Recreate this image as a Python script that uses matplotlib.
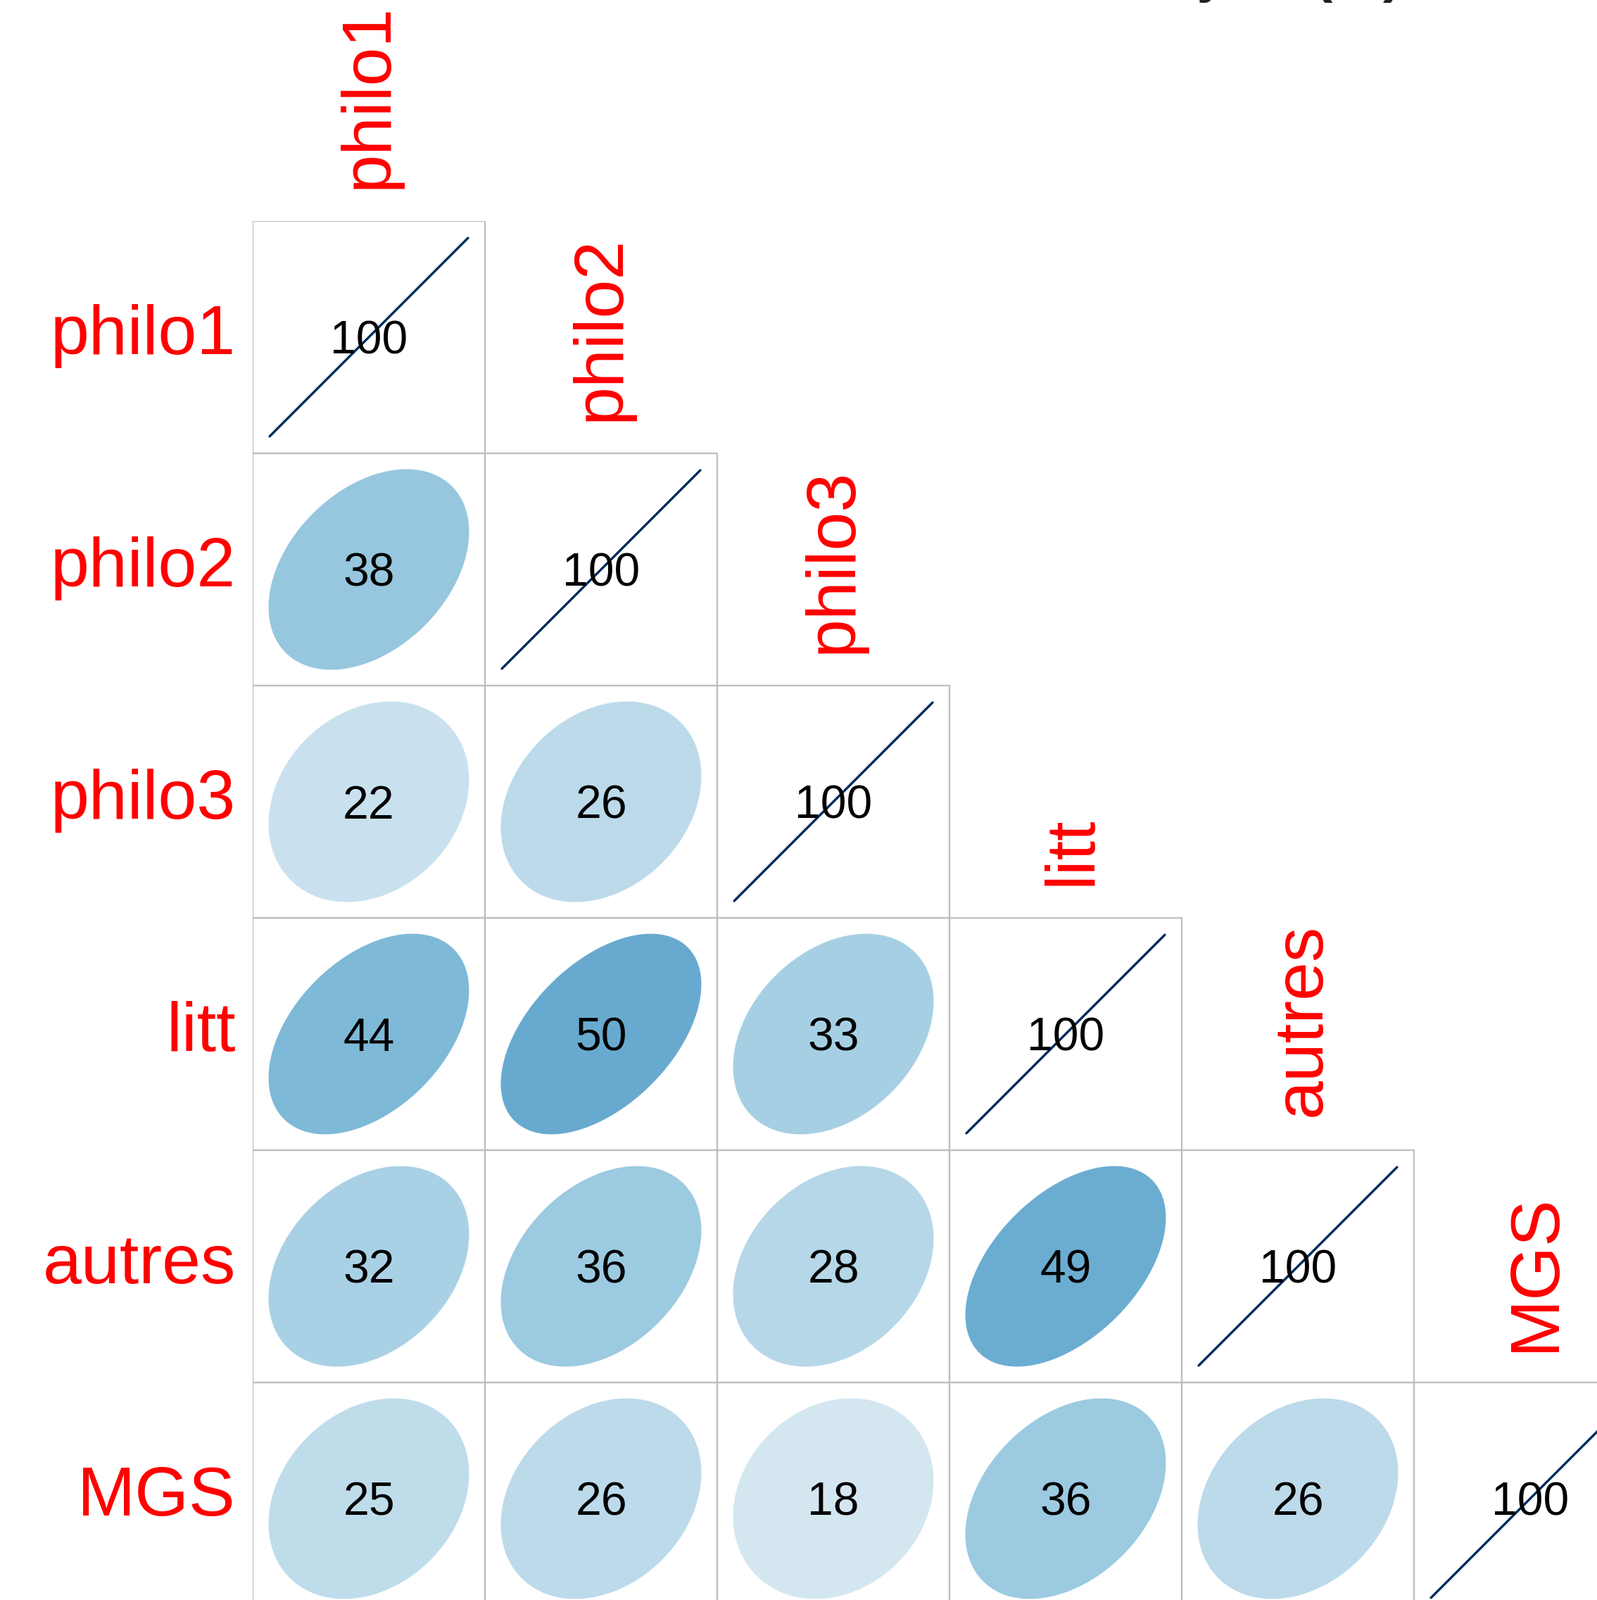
import numpy as np
import matplotlib
matplotlib.use('Agg')
import matplotlib.pyplot as plt
from matplotlib.patches import Polygon, Rectangle
from matplotlib.textpath import TextPath
from matplotlib.font_manager import FontProperties
from matplotlib.colors import LinearSegmentedColormap

labels = ['philo1', 'philo2', 'philo3', 'litt', 'autres', 'MGS']

# triangle inferieur, en %, ligne par ligne (diagonale = 100)
row_philo1 = [100]
row_philo2 = [38, 100]
row_philo3 = [22, 26, 100]
row_litt = [44, 50, 33, 100]
row_autres = [32, 36, 28, 49, 100]
row_mgs = [25, 26, 18, 36, 26, 100]
rows = [row_philo1, row_philo2, row_philo3, row_litt, row_autres, row_mgs]

title = 'Corrélations entre sujets (%)'

W, H, DPI = 2269, 2273, 100
CELL = 330           # taille d'une case en px
X0, Y0 = 359, 314    # coin haut-gauche de la grille en px
FONT = 'Liberation Sans'
LAB_SIZE = 71
NUM_SIZE = 47.5

n = len(labels)
px = 1.0 / CELL      # un pixel en unites de donnees
pt2px = DPI / 72

# palette RdBu a la corrplot, de -1 a 1
cmap = LinearSegmentedColormap.from_list('rdbu_corr', [
    '#67001F', '#B2182B', '#D6604D', '#F4A582', '#FDDBC7', '#FFFFFF',
    '#D1E5F0', '#92C5DE', '#4393C3', '#2166AC', '#053061'], N=200)


def ink(s, size):
    fp = FontProperties(family=FONT, size=size)
    e = TextPath((0, 0), s, prop=fp).get_extents()
    return e.x0 * pt2px, e.y0 * pt2px, e.x1 * pt2px, e.y1 * pt2px


def ellipse_xy(r, cx, cy, s=0.855, npts=200):
    # meme forme que corrplot: x = cos(t + d/2)/2, y = cos(t - d/2)/2
    t = np.linspace(0, 2 * np.pi, npts)
    d = np.arccos(np.clip(r, -1, 1))
    x = np.cos(t + d / 2) / 2
    y = np.cos(t - d / 2) / 2
    return np.column_stack([cx + s * x, cy - s * y])


fig = plt.figure(figsize=(W / DPI, H / DPI), dpi=DPI)
fig.patch.set_facecolor('white')
ax = fig.add_axes([X0 / W, 1 - (Y0 + n * CELL) / H, n * CELL / W, n * CELL / H])
ax.set_xlim(0, n)
ax.set_ylim(n, 0)
ax.axis('off')

for i, vals in enumerate(rows):
    for j, v in enumerate(vals):
        ax.add_patch(Rectangle((j, i), 1, 1, fill=False, ec='#BEBEBE', lw=1.6, zorder=1))
        col = cmap((v / 100 + 1) / 2)
        ax.add_patch(Polygon(ellipse_xy(v / 100, j + 0.5, i + 0.5), closed=True,
                             fc=col, ec=col, lw=2.0, joinstyle='round', zorder=2))
        ax.text(j + 0.5, i + 0.5 + 23.8 * px, f'{v}', ha='center', va='baseline',
                fontsize=NUM_SIZE, family=FONT, color='black', zorder=3)

# etiquettes des lignes
for i, lab in enumerate(labels):
    ax.text(-24 * px, i + 0.5 + 24 * px, lab, ha='right', va='baseline',
            fontsize=LAB_SIZE, family=FONT, color='red', clip_on=False)

# etiquettes des colonnes (verticales, centrees sur l'encre)
for j, lab in enumerate(labels):
    x0i, y0i, x1i, y1i = ink(lab, LAB_SIZE)
    yc = (y0i + y1i) / 2
    ax.text(j + 0.5 + yc * px, j - (52.5 - x0i) * px, lab, rotation=90,
            rotation_mode='anchor', ha='left', va='baseline', fontsize=LAB_SIZE,
            family=FONT, color='red', clip_on=False)

fig.text(1992 / W, 1 + 13 / H, title, ha='right', va='baseline', fontsize=58,
         fontweight='bold', family=FONT, color='#231F20')

fig.savefig('out.png', dpi=DPI, facecolor='white')
plt.close(fig)
